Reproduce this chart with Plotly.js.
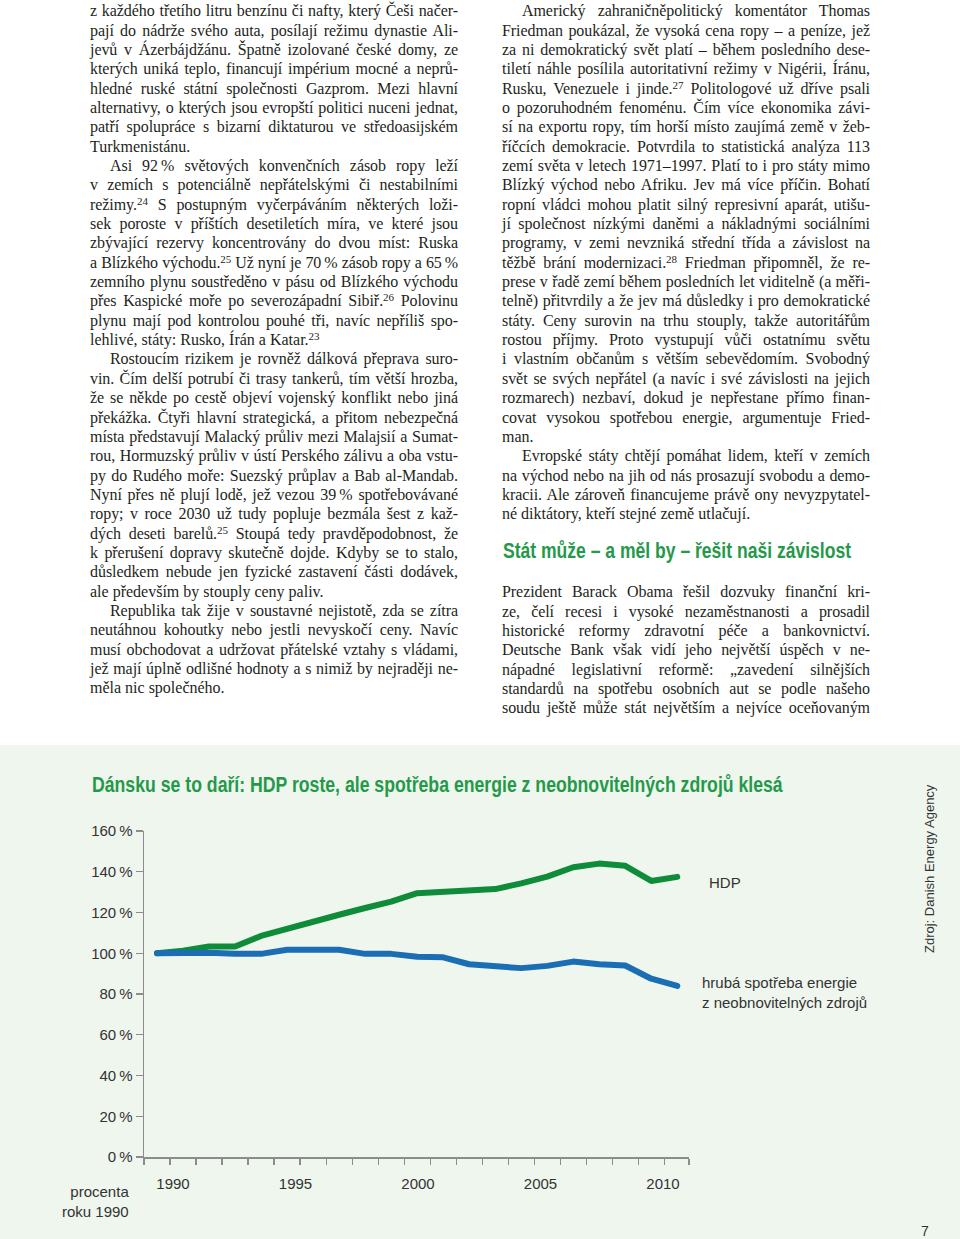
<!DOCTYPE html>
<html>
<head>
<meta charset="utf-8">
<script src="https://cdn.plot.ly/plotly-3.0.1.min.js"></script>
<style>
  html, body { margin:0; padding:0; background:#ffffff; }
  #page { position:relative; width:960px; height:1239px; overflow:hidden; background:#ffffff; }
  .col { position:absolute; font-family:"Liberation Serif", "DejaVu Serif", serif; font-size:16px; line-height:19.35px; color:#231f20; }
  .ln { white-space:nowrap; height:19.35px; text-align:justify; text-align-last:justify; }
  .ln.last { text-align:left; text-align-last:left; }
  .ln.ind { padding-left:20px; }
  .ln sup { font-size:11px; line-height:0; vertical-align:0.5em; }
  .head { position:absolute; font-family:"Liberation Sans", Arial, sans-serif; font-weight:bold; font-size:22px; color:#25994a; white-space:nowrap; transform-origin:0 50%; }
  #panel { position:absolute; left:0; top:745px; width:960px; height:494px; }
</style>
</head>
<body>
<div id="page">
  <div id="colL" class="col" style="left:90px; top:1.3px; width:368px;"></div>
  <div id="colR1" class="col" style="left:502px; top:1.3px; width:368px;"></div>
  <div id="head" class="head" style="left:503px; top:538px;">Stát může – a měl by – řešit naši závislost</div>
  <div id="colR2" class="col" style="left:502px; top:582.3px; width:368px;"></div>
  <div id="panel"></div>
</div>
<script>
// ---------- article text (">" = indented first line, "|" = last line of paragraph) ----------
const leftLines = [
  "z každého třetího litru benzínu či nafty, který Češi načer-",
  "pají do nádrže svého auta, posílají režimu dynastie Ali-",
  "jevů v Ázerbájdžánu. Špatně izolované české domy, ze",
  "kterých uniká teplo, financují impérium mocné a neprů-",
  "hledné ruské státní společnosti Gazprom. Mezi hlavní",
  "alternativy, o kterých jsou evropští politici nuceni jednat,",
  "patří spolupráce s bizarní diktaturou ve středoasijském",
  "Turkmenistánu.|",
  ">Asi 92\u2009% světových konvenčních zásob ropy leží",
  "v zemích s potenciálně nepřátelskými či nestabilními",
  "režimy.<sup>24</sup> S postupným vyčerpáváním některých loži-",
  "sek poroste v příštích desetiletích míra, ve které jsou",
  "zbývající rezervy koncentrovány do dvou míst: Ruska",
  "a Blízkého východu.<sup>25</sup> Už nyní je 70\u2009% zásob ropy a 65\u2009%",
  "zemního plynu soustředěno v pásu od Blízkého východu",
  "přes Kaspické moře po severozápadní Sibiř.<sup>26</sup> Polovinu",
  "plynu mají pod kontrolou pouhé tři, navíc nepříliš spo-",
  "lehlivé, státy: Rusko, Írán a Katar.<sup>23</sup>|",
  ">Rostoucím rizikem je rovněž dálková přeprava suro-",
  "vin. Čím delší potrubí či trasy tankerů, tím větší hrozba,",
  "že se někde po cestě objeví vojenský konflikt nebo jiná",
  "překážka. Čtyři hlavní strategická, a přitom nebezpečná",
  "místa představují Malacký průliv mezi Malajsií a Sumat-",
  "rou, Hormuzský průliv v ústí Perského zálivu a oba vstu-",
  "py do Rudého moře: Suezský průplav a Bab al-Mandab.",
  "Nyní přes ně plují lodě, jež vezou 39\u2009% spotřebovávané",
  "ropy; v roce 2030 už tudy popluje bezmála šest z kaž-",
  "dých deseti barelů.<sup>25</sup> Stoupá tedy pravděpodobnost, že",
  "k přerušení dopravy skutečně dojde. Kdyby se to stalo,",
  "důsledkem nebude jen fyzické zastavení části dodávek,",
  "ale především by stouply ceny paliv.|",
  ">Republika tak žije v soustavné nejistotě, zda se zítra",
  "neutáhnou kohoutky nebo jestli nevyskočí ceny. Navíc",
  "musí obchodovat a udržovat přátelské vztahy s vládami,",
  "jež mají úplně odlišné hodnoty a s nimiž by nejraději ne-",
  "měla nic společného.|"
];
const rightLines1 = [
  ">Americký zahraničněpolitický komentátor Thomas",
  "Friedman poukázal, že vysoká cena ropy – a peníze, jež",
  "za ni demokratický svět platí – během posledního dese-",
  "tiletí náhle posílila autoritativní režimy v Nigérii, Íránu,",
  "Rusku, Venezuele i jinde.<sup>27</sup> Politologové už dříve psali",
  "o pozoruhodném fenoménu. Čím více ekonomika závi-",
  "sí na exportu ropy, tím horší místo zaujímá země v žeb-",
  "říčcích demokracie. Potvrdila to statistická analýza 113",
  "zemí světa v letech 1971–1997. Platí to i pro státy mimo",
  "Blízký východ nebo Afriku. Jev má více příčin. Bohatí",
  "ropní vládci mohou platit silný represivní aparát, utišu-",
  "jí společnost nízkými daněmi a nákladnými sociálními",
  "programy, v zemi nevzniká střední třída a závislost na",
  "těžbě brání modernizaci.<sup>28</sup> Friedman připomněl, že re-",
  "prese v řadě zemí během posledních let viditelně (a měři-",
  "telně) přitvrdily a že jev má důsledky i pro demokratické",
  "státy. Ceny surovin na trhu stouply, takže autoritářům",
  "rostou příjmy. Proto vystupují vůči ostatnímu světu",
  "i vlastním občanům s větším sebevědomím. Svobodný",
  "svět se svých nepřátel (a navíc i své závislosti na jejich",
  "rozmarech) nezbaví, dokud je nepřestane přímo finan-",
  "covat vysokou spotřebou energie, argumentuje Fried-",
  "man.|",
  ">Evropské státy chtějí pomáhat lidem, kteří v zemích",
  "na východ nebo na jih od nás prosazují svobodu a demo-",
  "kracii. Ale zároveň financujeme právě ony nevyzpytatel-",
  "né diktátory, kteří stejné země utlačují.|"
];
const rightLines2 = [
  "Prezident Barack Obama řešil dozvuky finanční kri-",
  "ze, čelí recesi i vysoké nezaměstnanosti a prosadil",
  "historické reformy zdravotní péče a bankovnictví.",
  "Deutsche Bank však vidí jeho největší úspěch v ne-",
  "nápadné legislativní reformě: „zavedení silnějších",
  "standardů na spotřebu osobních aut se podle našeho",
  "soudu ještě může stát největším a nejvíce oceňovaným"
];

function fillColumn(id, lines) {
  const col = document.getElementById(id);
  const colW = 368;
  lines.forEach(raw => {
    let t = raw, ind = false, last = false;
    if (t.startsWith(">")) { ind = true; t = t.slice(1); }
    if (t.endsWith("|")) { last = true; t = t.slice(0, -1); }
    const d = document.createElement("div");
    d.className = "ln" + (ind ? " ind" : "") + (last ? " last" : "");
    const s = document.createElement("span");
    s.innerHTML = t;
    d.appendChild(s);
    col.appendChild(d);
    const avail = colW - (ind ? 20 : 0);
    const w = s.getBoundingClientRect().width;
    if (w > avail - 2) {
      const n = s.textContent.length;
      d.style.letterSpacing = (-(w - avail + 3) / n).toFixed(3) + "px";
    }
  });
}
fillColumn("colL", leftLines);
fillColumn("colR1", rightLines1);
fillColumn("colR2", rightLines2);

// condensed look for the section heading
(function () {
  const h = document.getElementById("head");
  const w = h.getBoundingClientRect().width;
  h.style.transform = "scaleX(" + (348 / w).toFixed(4) + ")";
})();

// ---------- chart data ----------
const years = [1990,1991,1992,1993,1994,1995,1996,1997,1998,1999,2000,2001,2002,2003,2004,2005,2006,2007,2008,2009,2010];
const gdp = [100,101.2,103.3,103.3,108.5,112.2,115.6,118.9,122.2,125.3,129.5,130.2,130.7,131.5,134.3,137.6,142.2,144.0,142.9,135.5,137.5];
const energy = [100,100.3,100.3,99.7,99.7,101.7,101.7,101.7,99.7,99.7,98.3,98.0,94.6,94.0,92.7,93.8,95.9,94.6,94.0,87.5,84.0];
const yTicks = [0,20,40,60,80,100,120,140,160];
const yearLabels = [1990,1995,2000,2005,2010];
const seriesNames = ["HDP", "hrubá spotřeba energie<br>z neobnovitelných zdrojů"];
const chartTitle = "Dánsku se to daří: HDP roste, ale spotřeba energie z neobnovitelných zdrojů klesá";

const GREEN = "#0f8c3a";
const BLUE = "#1b6db4";
const TXT = "#333333";
const AX = "#8c8c8c";
const FONT = "Liberation Sans, Arial, sans-serif";

const X_END = 2010.45;
const tickPositions = years.map(y => y - 0.5).concat([X_END]);
const last = years.length - 1;

const traces = [
  { x: years, y: gdp, type: "scatter", mode: "lines", name: seriesNames[0],
    line: { color: GREEN, width: 6 }, hoverinfo: "skip", showlegend: false },
  { x: years, y: energy, type: "scatter", mode: "lines", name: "energie",
    line: { color: BLUE, width: 6 }, hoverinfo: "skip", showlegend: false },
  { x: yearLabels, y: yearLabels.map(() => null), xaxis: "x2", type: "scatter", mode: "lines",
    hoverinfo: "skip", showlegend: false }
];

const layout = {
  width: 960, height: 494,
  margin: { l: 144, r: 271, t: 86, b: 82 },
  paper_bgcolor: "#eff6ee",
  plot_bgcolor: "rgba(0,0,0,0)",
  font: { family: FONT, size: 15, color: TXT },
  title: {
    text: chartTitle,
    x: 92 / 960, xanchor: "left", xref: "container",
    y: 1 - 39 / 494, yanchor: "middle", yref: "container",
    font: { family: FONT, size: 22, weight: "bold", color: "#25994a" }
  },
  xaxis: {
    range: [1989.5, X_END], showgrid: false, zeroline: false,
    showline: true, linecolor: AX, linewidth: 1.5,
    ticks: "outside", ticklen: 6, tickwidth: 1.2, tickcolor: AX,
    tickmode: "array", tickvals: tickPositions, showticklabels: false, fixedrange: true
  },
  xaxis2: {
    overlaying: "x", anchor: "y", side: "bottom",
    range: [1988.816, 2011.061], showgrid: false, zeroline: false, showline: false,
    ticks: "", tickmode: "array", tickvals: yearLabels, ticktext: yearLabels.map(String),
    tickfont: { family: FONT, size: 15, color: TXT }, ticklabelstandoff: 16, fixedrange: true
  },
  yaxis: {
    range: [0, 160], showgrid: false, zeroline: false,
    showline: true, linecolor: AX, linewidth: 1.5,
    ticks: "outside", ticklen: 7, tickwidth: 1.2, tickcolor: AX,
    tickmode: "array", tickvals: yTicks, ticktext: yTicks.map(v => v + "\u2009%"),
    tickfont: { family: FONT, size: 15, color: TXT }, fixedrange: true
  },
  annotations: [
    { x: years[last], y: gdp[last], xref: "x", yref: "y", text: seriesNames[0],
      showarrow: false, xanchor: "left", yanchor: "middle", xshift: 30, yshift: -6,
      font: { family: FONT, size: 15, color: TXT } },
    { x: years[last], y: energy[last], xref: "x", yref: "y", text: seriesNames[1],
      showarrow: false, xanchor: "left", yanchor: "middle", align: "left", xshift: 23, yshift: -7,
      font: { family: FONT, size: 15, color: TXT } },
    { x: (131 - 144) / 545, y: (1157 - 1201.5) / 326, xref: "paper", yref: "paper",
      text: "procenta<br>roku 1990", showarrow: false, xanchor: "right", yanchor: "middle", align: "right",
      font: { family: FONT, size: 15, color: TXT } },
    { x: (929 - 144) / 545, y: (1157 - 869) / 326, xref: "paper", yref: "paper",
      text: "Zdroj: Danish Energy Agency", textangle: -90, showarrow: false,
      xanchor: "center", yanchor: "middle",
      font: { family: FONT, size: 13, color: TXT } },
    { x: (925 - 144) / 545, y: (1157 - 1231) / 326, xref: "paper", yref: "paper",
      text: "7", showarrow: false, xanchor: "center", yanchor: "middle",
      font: { family: FONT, size: 14, color: TXT } }
  ]
};

Plotly.newPlot("panel", traces, layout, { staticPlot: true, displayModeBar: false }).then(gd => {
  // round line ends like the reference
  gd.querySelectorAll(".scatterlayer .js-line").forEach(p => {
    p.style.strokeLinecap = "round";
    p.style.strokeLinejoin = "round";
  });
  // condensed look for the chart title
  const t = gd.querySelector(".gtitle");
  if (t) {
    const bb = t.getBBox();
    const sx = 692 / bb.width;
    const prev = t.getAttribute("transform") || "";
    t.setAttribute("transform", prev + " translate(" + bb.x + ",0) scale(" + sx.toFixed(4) + ",1) translate(" + (-bb.x) + ",0)");
  }
});
</script>
</body>
</html>
